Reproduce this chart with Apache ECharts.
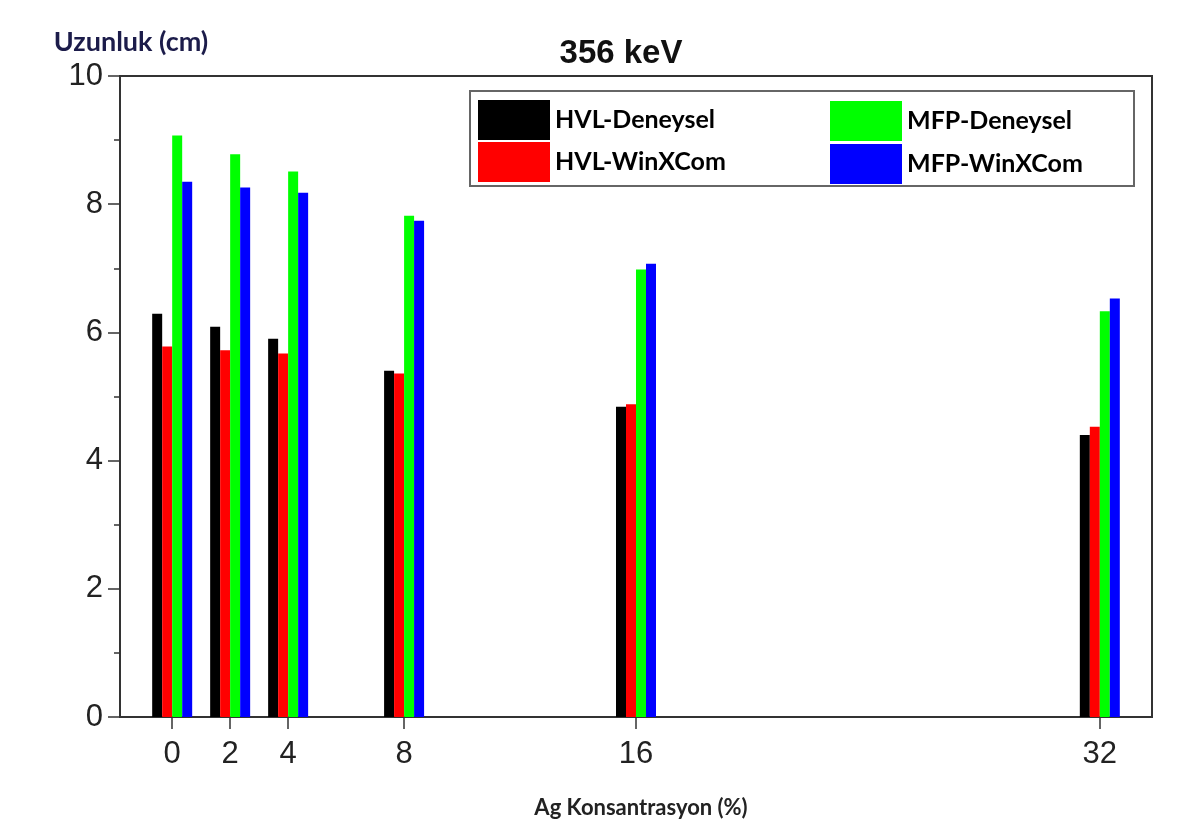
<!DOCTYPE html>
<html>
<head>
<meta charset="utf-8">
<script src="https://cdn.jsdelivr.net/npm/echarts@6/dist/echarts.min.js"></script>
<style>html,body{margin:0;padding:0;background:#fff;}#c{width:1188px;height:832px;}</style>
</head>
<body>
<div id="c"></div>
<script>
const concentrations = [0, 2, 4, 8, 16, 32];
const hvlDeneysel = [6.29, 6.09, 5.90, 5.40, 4.84, 4.40];
const hvlWinXCom  = [5.78, 5.72, 5.67, 5.36, 4.88, 4.53];
const mfpDeneysel = [9.07, 8.78, 8.51, 7.82, 6.98, 6.33];
const mfpWinXCom  = [8.35, 8.26, 8.18, 7.74, 7.07, 6.53];
const yTicks = [0, 2, 4, 6, 8, 10];
const seriesNames = ['HVL-Deneysel', 'HVL-WinXCom', 'MFP-Deneysel', 'MFP-WinXCom'];
const seriesValues = [hvlDeneysel, hvlWinXCom, mfpDeneysel, mfpWinXCom];
const colors = ['#000000', '#ff0000', '#00ff00', '#0000ff'];

const chart = echarts.init(document.getElementById('c'));
const legendText = { fontFamily: 'Lato', fontWeight: 'bold', fontSize: 25, color: '#000' };
chart.setOption({
  animation: false,
  backgroundColor: '#fff',
  title: {
    text: '356 keV', left: 616, top: 32, textAlign: 'center',
    textStyle: { fontFamily: 'Liberation Sans', fontWeight: 'bold', fontSize: 33, color: '#111' }
  },
  grid: { left: 120, right: 36, top: 76, bottom: 115, show: true, borderColor: '#333', borderWidth: 2, backgroundColor: 'transparent' },
  legend: [
    { data: seriesNames.slice(0, 2), orient: 'vertical', left: 473, top: 95, itemWidth: 72, itemHeight: 40, itemGap: 2, icon: 'rect', textStyle: legendText, selectedMode: false },
    { data: seriesNames.slice(2, 4), orient: 'vertical', left: 825, top: 96, itemWidth: 72, itemHeight: 40, itemGap: 3, icon: 'rect', textStyle: legendText, selectedMode: false }
  ],
  graphic: [{
    type: 'rect', left: 469, top: 90, shape: { width: 664, height: 95 }, z: 0,
    style: { fill: 'transparent', stroke: '#666', lineWidth: 2 }
  }],
  xAxis: {
    type: 'value', min: -1.8, max: 33.8,
    name: 'Ag Konsantrasyon (%)', nameLocation: 'middle', nameGap: 80,
    nameTextStyle: { fontFamily: 'Lato', fontWeight: 'bold', fontSize: 22, color: '#222', padding: [0, 0, 0, 10] },
    axisLine: { show: true, onZero: false, lineStyle: { color: '#333', width: 2 } },
    axisTick: { show: true, customValues: concentrations, length: 12, lineStyle: { color: '#333', width: 1.5 } },
    axisLabel: { customValues: concentrations, margin: 22, fontFamily: 'Liberation Sans', fontSize: 31, color: '#222' },
    splitLine: { show: false }
  },
  yAxis: {
    type: 'value', min: 0, max: 10, interval: 2,
    name: 'Uzunluk (cm)', nameLocation: 'end', nameGap: 20,
    nameTextStyle: { fontFamily: 'Lato', fontWeight: 'bold', fontSize: 27, color: '#1c1c4a', align: 'center', padding: [0, 0, 0, 22] },
    axisLine: { show: true, onZero: false, lineStyle: { color: '#333', width: 2 } },
    axisTick: { show: true, length: 12, lineStyle: { color: '#333', width: 1.5 } },
    minorTick: { show: true, splitNumber: 2, length: 6, lineStyle: { color: '#333', width: 1.5 } },
    axisLabel: { customValues: yTicks, margin: 17, fontFamily: 'Liberation Sans', fontSize: 31, color: '#222' },
    splitLine: { show: false }
  },
  series: seriesNames.map((name, i) => ({
    name: name, type: 'bar', barWidth: 10, barGap: '0%',
    itemStyle: { color: colors[i] },
    data: concentrations.map((c, j) => [c, seriesValues[i][j]])
  }))
});
</script>
</body>
</html>
